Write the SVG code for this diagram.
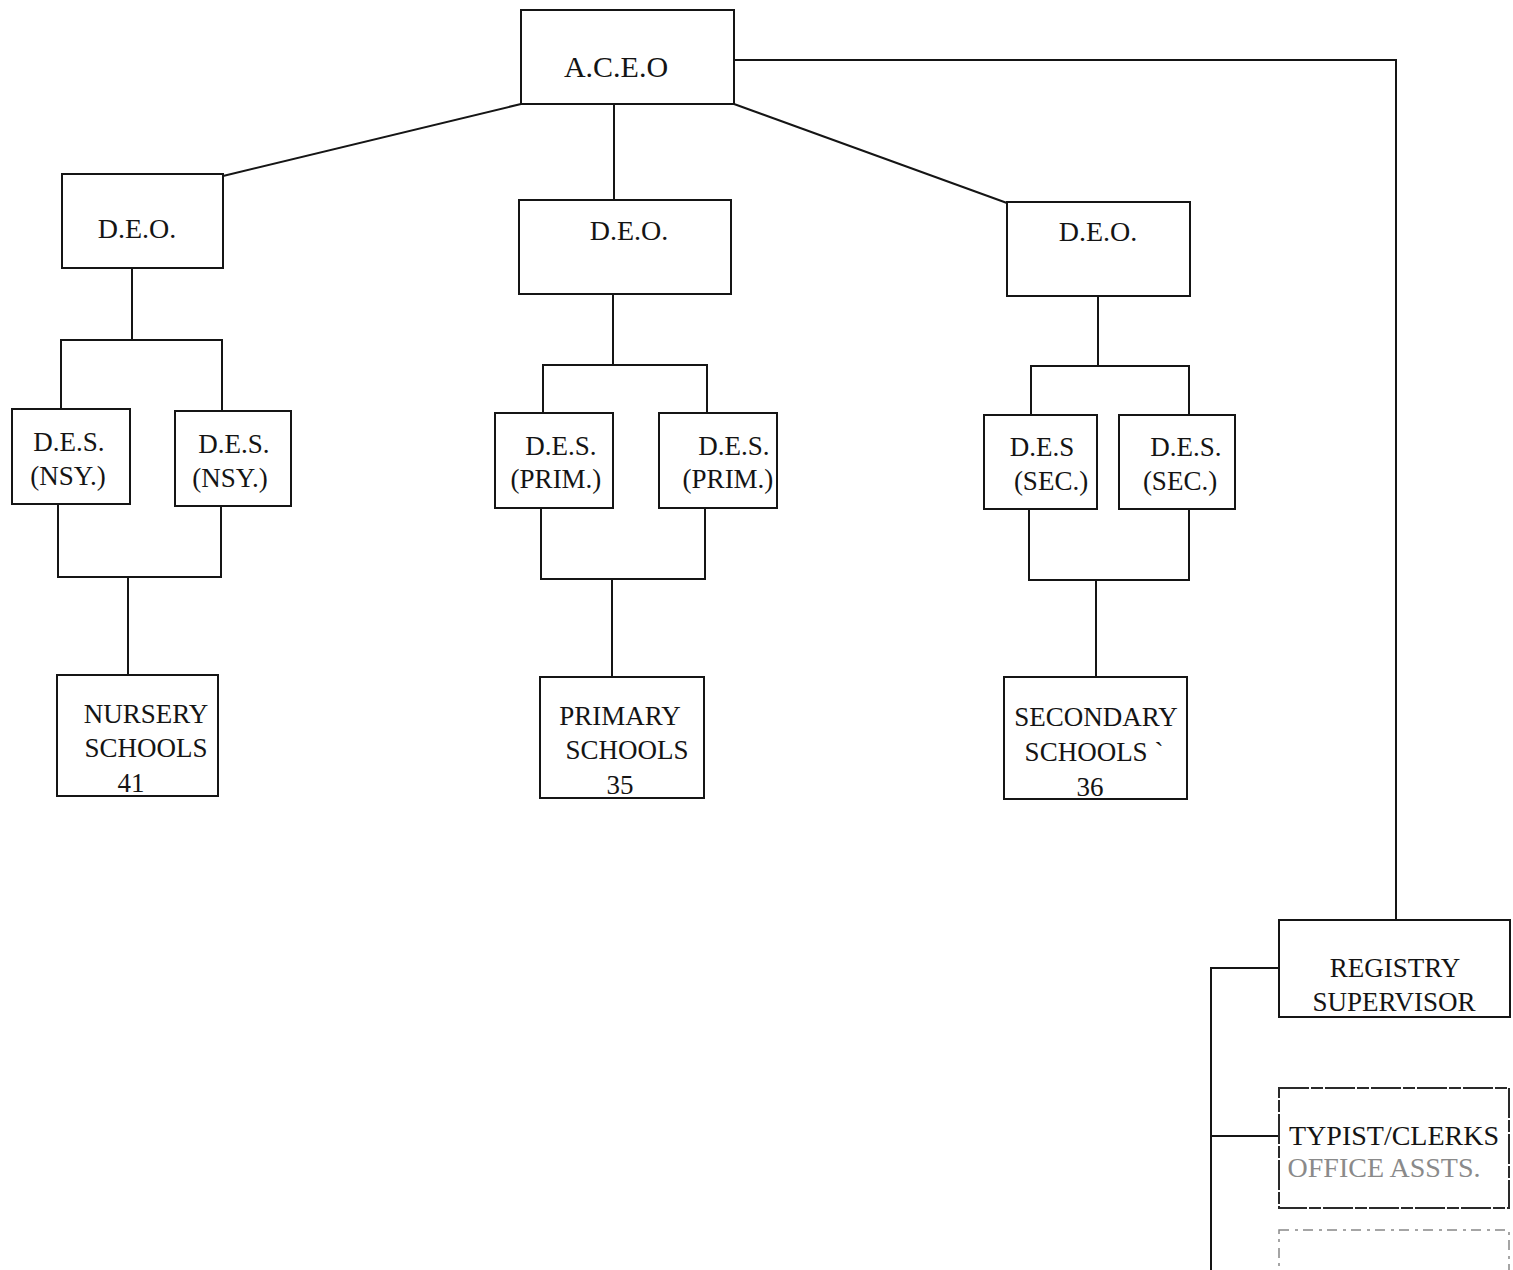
<svg xmlns="http://www.w3.org/2000/svg" width="1513" height="1270" viewBox="0 0 1513 1270">
<style>
.box{fill:#fff;stroke:#151515;stroke-width:2}
.faint{fill:#fff;stroke:#2a2a2a;stroke-width:2;stroke-dasharray:30 2 12 2}
.ghost{fill:none;stroke:#888;stroke-width:1.5;stroke-dasharray:10 6 3 5}
.ln{fill:none;stroke:#151515;stroke-width:2}
text{font-family:"Liberation Serif","Times New Roman",serif;fill:#141414;text-anchor:middle}
.t30{font-size:30px}.t28{font-size:28px}.t27{font-size:27px}
.fade{fill:#8a8a8a}
</style>
<rect width="1513" height="1270" fill="#fff"/>
<g id="connectors">
<polyline class="ln" points="521,104 223,176"/>
<polyline class="ln" points="614,104 614,201"/>
<polyline class="ln" points="734,104 1007,203"/>
<polyline class="ln" points="734,60 1396,60 1396,920"/>
<polyline class="ln" points="132,268 132,340"/>
<polyline class="ln" points="61,409 61,340 222,340 222,411"/>
<polyline class="ln" points="58,504 58,577 221,577 221,506"/>
<polyline class="ln" points="128,577 128,675"/>
<polyline class="ln" points="613,294 613,365"/>
<polyline class="ln" points="543,413 543,365 707,365 707,413"/>
<polyline class="ln" points="541,508 541,579 705,579 705,508"/>
<polyline class="ln" points="612,579 612,677"/>
<polyline class="ln" points="1098,296 1098,366"/>
<polyline class="ln" points="1031,415 1031,366 1189,366 1189,415"/>
<polyline class="ln" points="1029,509 1029,580 1189,580 1189,509"/>
<polyline class="ln" points="1096,580 1096,677"/>
<polyline class="ln" points="1279,968 1211,968 1211,1270"/>
<polyline class="ln" points="1211,1136 1279,1136"/>
</g>
<g id="aceo"><rect class="box" x="521" y="10" width="213" height="94"/><text class="t30" x="616" y="77">A.C.E.O</text></g>
<g id="deo-nursery"><rect class="box" x="62" y="174" width="161" height="94"/><text class="t28" x="137" y="238">D.E.O.</text></g>
<g id="deo-primary"><rect class="box" x="519" y="200" width="212" height="94"/><text class="t28" x="629" y="240">D.E.O.</text></g>
<g id="deo-secondary"><rect class="box" x="1007" y="202" width="183" height="94"/><text class="t28" x="1098" y="241">D.E.O.</text></g>
<g id="des-nsy-1"><rect class="box" x="12" y="409" width="118" height="95"/><text class="t27" x="69" y="451">D.E.S.</text><text class="t27" x="68" y="485">(NSY.)</text></g>
<g id="des-nsy-2"><rect class="box" x="175" y="411" width="116" height="95"/><text class="t27" x="234" y="453">D.E.S.</text><text class="t27" x="230" y="487">(NSY.)</text></g>
<g id="des-prim-1"><rect class="box" x="495" y="413" width="118" height="95"/><text class="t27" x="561" y="455">D.E.S.</text><text class="t27" x="556" y="488">(PRIM.)</text></g>
<g id="des-prim-2"><rect class="box" x="659" y="413" width="118" height="95"/><text class="t27" x="734" y="455">D.E.S.</text><text class="t27" x="728" y="488">(PRIM.)</text></g>
<g id="des-sec-1"><rect class="box" x="984" y="415" width="113" height="94"/><text class="t27" x="1042" y="456">D.E.S</text><text class="t27" x="1051" y="490">(SEC.)</text></g>
<g id="des-sec-2"><rect class="box" x="1119" y="415" width="116" height="94"/><text class="t27" x="1186" y="456">D.E.S.</text><text class="t27" x="1180" y="490">(SEC.)</text></g>
<g id="nursery-schools"><rect class="box" x="57" y="675" width="161" height="121"/><text class="t27" x="146" y="723">NURSERY</text><text class="t27" x="146" y="757">SCHOOLS</text><text class="t27" x="131" y="792">41</text></g>
<g id="primary-schools"><rect class="box" x="540" y="677" width="164" height="121"/><text class="t27" x="620" y="725">PRIMARY</text><text class="t27" x="627" y="759">SCHOOLS</text><text class="t27" x="620" y="794">35</text></g>
<g id="secondary-schools"><rect class="box" x="1004" y="677" width="183" height="122"/><text class="t27" x="1096" y="726">SECONDARY</text><text class="t27" x="1094" y="761">SCHOOLS `</text><text class="t27" x="1090" y="796">36</text></g>
<g id="registry-supervisor"><rect class="box" x="1279" y="920" width="231" height="97"/><text class="t27" x="1395" y="977">REGISTRY</text><text class="t27" x="1394" y="1011">SUPERVISOR</text></g>
<g id="typist-clerks"><rect class="faint" x="1279" y="1088" width="230" height="120"/><text class="t28" x="1394" y="1145">TYPIST/CLERKS</text><text class="t28 fade" x="1384" y="1177">OFFICE ASSTS.</text></g>
<g id="lower-box"><rect class="ghost" x="1279" y="1230" width="230" height="60"/></g>
</svg>
